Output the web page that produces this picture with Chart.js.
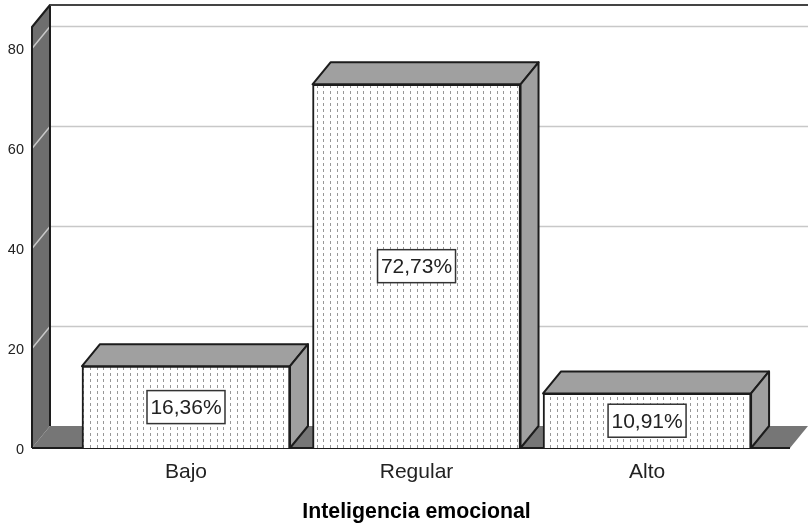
<!DOCTYPE html>
<html>
<head>
<meta charset="utf-8">
<style>
  html, body { margin: 0; padding: 0; background: #fff; }
  canvas { display: block; }
</style>
<script src="https://cdn.jsdelivr.net/npm/chart.js@4"></script>
</head>
<body>
<canvas id="myChart" width="809" height="526"></canvas>
<script>
const categories = ['Bajo', 'Regular', 'Alto'];
const categoryPositions = [0, 1, 2];
const percentages = [16.36, 72.73, 10.91];
const percentLabels = ['16,36%', '72,73%', '10,91%'];
const yTicks = [0, 20, 40, 60, 80];
const axisTitle = 'Inteligencia emocional';

const depthX = 18, depthY = 22;
const lineDark = '#1c1c1c';
const fontFamily = '"Liberation Sans", Arial, sans-serif';

// stipple used on the front of the bars
function dotPattern() {
  const c = document.createElement('canvas');
  c.width = 20; c.height = 6;
  const p = c.getContext('2d');
  p.fillStyle = '#fff';
  p.fillRect(0, 0, 20, 6);
  p.fillStyle = '#979797';
  [3, 10, 17].forEach(x => p.fillRect(x, 1, 1, 3));
  return document.querySelector('#myChart').getContext('2d').createPattern(c, 'repeat');
}

function poly(ctx, pts, fill, stroke, width) {
  ctx.beginPath();
  pts.forEach((p, i) => i ? ctx.lineTo(p[0], p[1]) : ctx.moveTo(p[0], p[1]));
  ctx.closePath();
  if (fill) { ctx.fillStyle = fill; ctx.fill(); }
  if (stroke) { ctx.strokeStyle = stroke; ctx.lineWidth = width || 2; ctx.stroke(); }
}

// walls, floor and gridlines behind the bars
const room = {
  id: 'room',
  beforeDatasetsDraw(chart) {
    const ctx = chart.ctx, a = chart.chartArea, y = chart.scales.y;
    const l = a.left, r = a.right, t = a.top, b = a.bottom;
    ctx.save();
    ctx.lineJoin = 'round';
    poly(ctx, [[l, b], [l + depthX, b - depthY], [r + depthX, b - depthY], [r, b]], '#767676');
    poly(ctx, [[l, t], [l + depthX, t - depthY], [l + depthX, b - depthY], [l, b]], '#6e6e6e');
    yTicks.slice(1).forEach(v => {
      const py = Math.round(y.getPixelForValue(v)) + 0.5;
      ctx.strokeStyle = '#c8c8c8';
      ctx.lineWidth = 1.5;
      ctx.beginPath();
      ctx.moveTo(l, py);
      ctx.lineTo(l + depthX, py - depthY);
      ctx.lineTo(r + depthX, py - depthY);
      ctx.stroke();
    });
    ctx.strokeStyle = lineDark;
    ctx.lineWidth = 2;
    ctx.beginPath();
    ctx.moveTo(l, b); ctx.lineTo(l, t); ctx.lineTo(l + depthX, t - depthY); ctx.lineTo(l + depthX, b - depthY);
    ctx.stroke();
    ctx.strokeStyle = '#444';
    ctx.beginPath();
    ctx.moveTo(l + depthX, t - depthY); ctx.lineTo(r + depthX, t - depthY);
    ctx.stroke();
    ctx.strokeStyle = lineDark;
    ctx.beginPath();
    ctx.moveTo(l, b); ctx.lineTo(r, b);
    ctx.stroke();
    // top and right faces of each bar
    chart.getDatasetMeta(0).data.forEach(bar => {
      const x0 = bar.x - bar.width / 2, x1 = bar.x + bar.width / 2, top = bar.y, base = bar.base;
      poly(ctx, [[x0, top], [x0 + depthX, top - depthY], [x1 + depthX, top - depthY], [x1, top]], '#a0a0a0', lineDark);
      poly(ctx, [[x1, top], [x1 + depthX, top - depthY], [x1 + depthX, base - depthY], [x1, base]], '#a0a0a0', lineDark);
    });
    ctx.restore();
  }
};

// boxed percentage in the middle of each bar, plus the axis title under the middle bar
const boxLabels = {
  id: 'boxLabels',
  afterDatasetsDraw(chart) {
    const ctx = chart.ctx;
    ctx.save();
    ctx.font = '21px ' + fontFamily;
    ctx.textAlign = 'center';
    ctx.textBaseline = 'middle';
    chart.getDatasetMeta(0).data.forEach((bar, i) => {
      const cx = bar.x, cy = (bar.y + bar.base) / 2;
      ctx.fillStyle = '#fff';
      ctx.strokeStyle = '#333';
      ctx.lineWidth = 1.5;
      ctx.fillRect(cx - 39, cy - 16.5, 78, 33);
      ctx.strokeRect(cx - 39, cy - 16.5, 78, 33);
      ctx.fillStyle = '#222';
      ctx.fillText(percentLabels[i], cx, cy + 1);
    });
    ctx.font = 'bold 21.3px ' + fontFamily;
    ctx.fillStyle = '#000';
    ctx.fillText(axisTitle, chart.scales.x.getPixelForValue(1), 512);
    ctx.restore();
  }
};

const config = {
  type: 'bar',
  data: {
    datasets: [{
      data: categoryPositions.map((x, i) => ({ x: x, y: percentages[i] })),
      backgroundColor: dotPattern(),
      borderColor: lineDark,
      borderWidth: 2,
      barThickness: 208
    }]
  },
  options: {
    responsive: false,
    animation: false,
    layout: { padding: { top: 27, right: 19, left: 0, bottom: 0 } },
    plugins: { legend: { display: false }, tooltip: { enabled: false } },
    scales: {
      x: {
        type: 'linear',
        offset: false,
        min: -0.668,
        max: 2.62,
        afterBuildTicks: s => { s.ticks = categoryPositions.map(v => ({ value: v })); },
        afterFit: s => { s.height = 78; },
        grid: { display: false, drawTicks: false },
        border: { display: false },
        ticks: {
          autoSkip: false,
          maxRotation: 0,
          padding: 12,
          color: '#222',
          font: { family: fontFamily, size: 21 },
          callback: v => categories[v]
        }
      },
      y: {
        min: 0,
        max: 84.2,
        afterBuildTicks: s => { s.ticks = yTicks.map(v => ({ value: v })); },
        afterFit: s => { s.width = 32; },
        grid: { display: false, drawTicks: false },
        border: { display: false },
        ticks: {
          padding: 8,
          color: '#222',
          font: { family: fontFamily, size: 14.5, lineHeight: '4px' },
          // empty first line pushes the number down to where the reference has it
          callback: v => ['', String(v)]
        }
      }
    }
  },
  plugins: [room, boxLabels]
};

new Chart(document.getElementById('myChart').getContext('2d'), config);
</script>
</body>
</html>
